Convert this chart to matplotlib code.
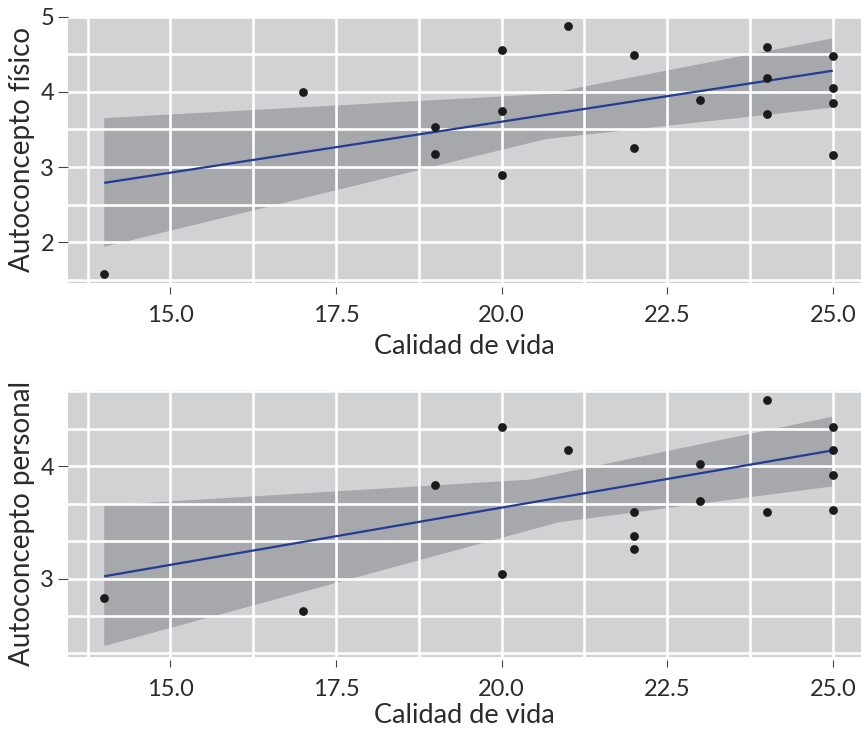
import numpy as np
import matplotlib
matplotlib.use("Agg")
import matplotlib.pyplot as plt
from matplotlib.ticker import MultipleLocator, FixedLocator

plt.rcParams['font.family'] = ['Lato', 'DejaVu Sans']

# ---------------- data ----------------
# top panel: Calidad de vida vs Autoconcepto físico
x_fis = [14, 17, 19, 19, 20, 20, 20, 21, 22, 22, 23, 24, 24, 24, 25, 25, 25, 25]
y_fis = [1.58, 4.00, 3.53, 3.18, 4.56, 3.74, 2.89, 4.88, 4.49, 3.25, 3.89,
         4.60, 4.18, 3.71, 4.47, 4.05, 3.85, 3.16]
fit_fis_x = [14, 25]
fit_fis_y = [2.79, 4.28]
band_fis_up_x = [14, 20.67, 25]
band_fis_up_y = [3.65, 3.97, 4.71]
band_fis_lo_x = [14, 20.66, 25]
band_fis_lo_y = [1.94, 3.37, 3.79]

# bottom panel: Calidad de vida vs Autoconcepto personal
x_per = [14, 17, 19, 20, 20, 21, 22, 22, 22, 23, 23, 24, 24, 25, 25, 25, 25]
y_per = [2.83, 2.71, 3.83, 4.35, 3.04, 4.14, 3.59, 3.38, 3.26, 4.02, 3.69,
         4.59, 3.59, 4.35, 4.14, 3.92, 3.61]
fit_per_x = [14, 25]
fit_per_y = [3.02, 4.14]
band_per_up_x = [14, 20.43, 25]
band_per_up_y = [3.65, 3.88, 4.44]
band_per_lo_x = [14, 20.86, 25]
band_per_lo_y = [2.40, 3.50, 3.82]

x_ticks = [15.0, 17.5, 20.0, 22.5, 25.0]
x_ticklabels = ["15.0", "17.5", "20.0", "22.5", "25.0"]
fis_ticks = [2, 3, 4, 5]
per_ticks = [3, 4]

xlabel = "Calidad de vida"
ylabel_fis = "Autoconcepto físico"
ylabel_per = "Autoconcepto personal"

# ---------------- style ----------------
PANEL = "#d1d2d4"
BAND = "#a7a8ab"
LINE = "#233c96"
POINT = "#1b1b1b"
TXT = "#2b2b2b"

W, H = 861, 729
fig = plt.figure(figsize=(W / 100, H / 100), dpi=100)

def px_axes(left, top, right, bottom):
    return fig.add_axes([left / W, 1 - bottom / H, (right - left) / W, (bottom - top) / H])

ax1 = px_axes(68, 16.5, 861, 283.5)
ax2 = px_axes(68, 390, 861, 657)

def style(ax, xs, ys, fx, fy, ux, uy, lx, ly, yticks, yminor, ylim, ylab, xpad):
    ax.set_facecolor(PANEL)
    ax.fill(np.r_[ux, lx[::-1]], np.r_[uy, ly[::-1]], color=BAND, lw=0, zorder=1)
    ax.plot(fx, fy, color=LINE, lw=1.6, zorder=3, solid_capstyle='butt')
    ax.scatter(xs, ys, s=40, color=POINT, zorder=4, linewidths=0)
    ax.set_xlim(13.453, 25.426)
    ax.set_ylim(*ylim)
    ax.xaxis.set_major_locator(FixedLocator(x_ticks))
    ax.set_xticklabels(x_ticklabels)
    ax.xaxis.set_minor_locator(MultipleLocator(1.25))
    ax.yaxis.set_major_locator(FixedLocator(yticks))
    ax.yaxis.set_minor_locator(MultipleLocator(yminor))
    ax.set_axisbelow(False)
    ax.grid(True, which='both', color='white', lw=1.9, zorder=2)
    for s in ax.spines.values():
        s.set_color('none')
    ax.spines['bottom'].set_position(('outward', 2.2))
    ax.tick_params(which='minor', length=0)
    ax.tick_params(axis='x', which='major', length=5.3, width=0.8, color='#444444',
                   labelsize=17, labelcolor=TXT, pad=8)
    ax.tick_params(axis='y', which='major', length=7, width=0.8, color='#444444',
                   labelsize=17, labelcolor=TXT, pad=3)
    ax.set_xlabel(xlabel, fontsize=19.5, color=TXT, labelpad=xpad)
    ax.set_ylabel(ylab, fontsize=20, color=TXT, labelpad=4)

style(ax1, x_fis, y_fis, fit_fis_x, fit_fis_y,
      np.array(band_fis_up_x), np.array(band_fis_up_y),
      np.array(band_fis_lo_x), np.array(band_fis_lo_y),
      fis_ticks, 0.5, (1.453, 5.0), ylabel_fis, 5.5)
style(ax2, x_per, y_per, fit_per_x, fit_per_y,
      np.array(band_per_up_x), np.array(band_per_up_y),
      np.array(band_per_lo_x), np.array(band_per_lo_y),
      per_ticks, 1 / 3, (2.302, 4.677), ylabel_per, 2.5)

fig.savefig("out.png", dpi=100)
